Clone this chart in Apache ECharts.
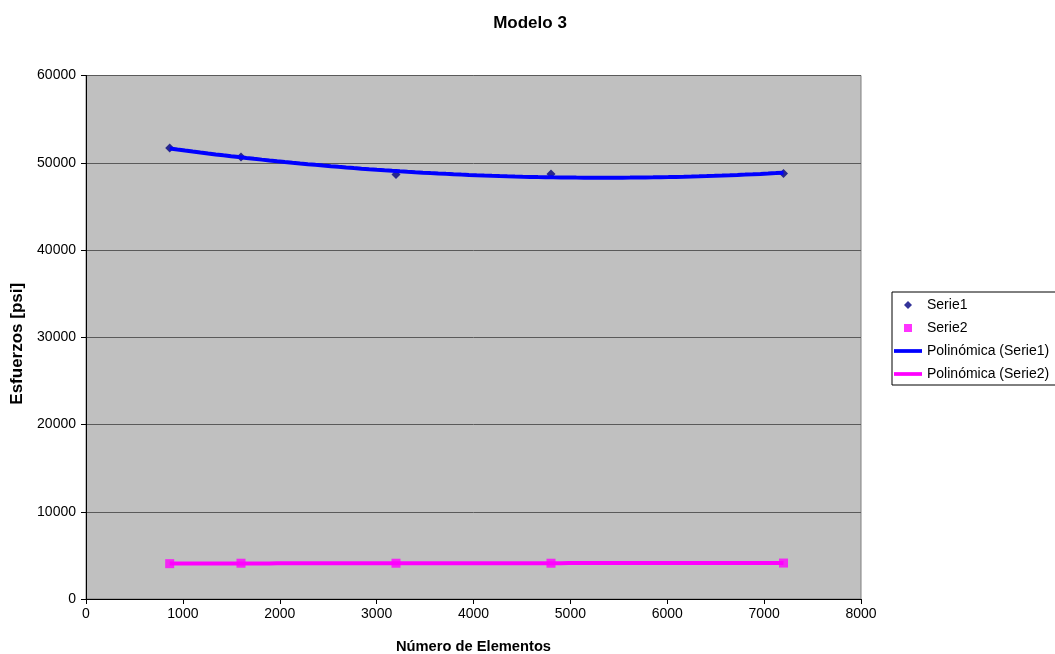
<!DOCTYPE html>
<html>
<head>
<meta charset="utf-8">
<script src="https://cdn.jsdelivr.net/npm/echarts@6/dist/echarts.min.js"></script>
<style>
  html, body { margin: 0; padding: 0; background: #ffffff; }
  #chart { width: 1055px; height: 654px; }
</style>
</head>
<body>
<div id="chart"></div>
<script>
// Número de elementos de la malla
const elementos = [864, 1600, 3200, 4800, 7200];
// Esfuerzos [psi]
const serie1 = [51700, 50660, 48650, 48710, 48770];
const serie2 = [4050, 4100, 4100, 4100, 4120];

const xTicks = { min: 0, max: 8000, interval: 1000 };
const yTicks = { min: 0, max: 60000, interval: 10000 };

// Least-squares quadratic fit (polynomial trendline, order 2)
function polyFit2(xs, ys) {
  const n = xs.length;
  let s = [0, 0, 0, 0, 0], t = [0, 0, 0];
  for (let i = 0; i < n; i++) {
    let p = 1;
    for (let k = 0; k <= 4; k++) { s[k] += p; if (k <= 2) t[k] += p * ys[i]; p *= xs[i]; }
  }
  const A = [[s[0], s[1], s[2]], [s[1], s[2], s[3]], [s[2], s[3], s[4]]];
  const b = t.slice();
  for (let c = 0; c < 3; c++) {
    for (let r = c + 1; r < 3; r++) {
      const f = A[r][c] / A[c][c];
      for (let k = c; k < 3; k++) A[r][k] -= f * A[c][k];
      b[r] -= f * b[c];
    }
  }
  const coef = [0, 0, 0];
  for (let r = 2; r >= 0; r--) {
    let v = b[r];
    for (let k = r + 1; k < 3; k++) v -= A[r][k] * coef[k];
    coef[r] = v / A[r][r];
  }
  return coef;
}

// Trendline sampled across the span of the measured x values
function trend(xs, ys, steps) {
  const c = polyFit2(xs, ys);
  const x0 = Math.min(...xs), x1 = Math.max(...xs);
  const out = [];
  for (let i = 0; i <= steps; i++) {
    const x = x0 + (x1 - x0) * i / steps;
    out.push([x, c[0] + c[1] * x + c[2] * x * x]);
  }
  return out;
}

const pts1 = elementos.map((x, i) => [x, serie1[i]]);
const pts2 = elementos.map((x, i) => [x, serie2[i]]);

const font = 'Liberation Sans, Arial, sans-serif';
const plain = v => String(v);
const chart = echarts.init(document.getElementById('chart'), null, { renderer: 'canvas' });

chart.setOption({
  animation: false,
  textStyle: { fontFamily: font },
  title: {
    text: 'Modelo 3',
    left: 525, top: 10, textAlign: 'center',
    textStyle: { fontFamily: font, fontSize: 17, fontWeight: 'bold', color: '#000' }
  },
  grid: {
    left: 86, top: 75.5, right: 194, bottom: 55,
    outerBoundsMode: 'none', containLabel: false,
    show: true, backgroundColor: '#C0C0C0', borderColor: '#808080', borderWidth: 1
  },
  legend: {
    orient: 'vertical',
    left: 892, top: 292,
    padding: [5, 60, 3, 2],
    itemWidth: 28, itemHeight: 8, itemGap: 7,
    backgroundColor: '#ffffff', borderColor: '#000', borderWidth: 1,
    textStyle: { fontFamily: font, fontSize: 14, color: '#000', lineHeight: 16 },
    data: [
      { name: 'Serie1', icon: 'path://M5,0L10,5L5,10L0,5Z' },
      { name: 'Serie2', icon: 'path://M0,0H10V10H0Z' },
      { name: 'Polinómica (Serie1)', icon: 'path://M0,0H30V4H0Z' },
      { name: 'Polinómica (Serie2)', icon: 'path://M0,0H30V4H0Z' }
    ]
  },
  xAxis: {
    type: 'value', min: xTicks.min, max: xTicks.max, interval: xTicks.interval,
    name: 'Número de Elementos', nameLocation: 'middle', nameGap: 40,
    nameTextStyle: { fontFamily: font, fontSize: 14.7, fontWeight: 'bold', color: '#000' },
    axisLine: { show: true, onZero: false, lineStyle: { color: '#000', width: 1 } },
    axisTick: { show: true, inside: false, length: 5, lineStyle: { color: '#000' } },
    axisLabel: { fontFamily: font, fontSize: 14, color: '#000', margin: 8, formatter: plain },
    splitLine: { show: false }
  },
  yAxis: {
    type: 'value', min: yTicks.min, max: yTicks.max, interval: yTicks.interval,
    name: 'Esfuerzos [psi]', nameLocation: 'middle', nameGap: 54, nameRotate: 90,
    nameTextStyle: { fontFamily: font, fontSize: 17, fontWeight: 'bold', color: '#000', padding: [0, 13, 0, 0] },
    axisLine: { show: true, onZero: false, lineStyle: { color: '#000', width: 1 } },
    axisTick: { show: true, inside: false, length: 5, lineStyle: { color: '#000' } },
    axisLabel: { fontFamily: font, fontSize: 14, color: '#000', margin: 10, formatter: plain },
    splitLine: { show: true, lineStyle: { color: '#5a5a5a', width: 1 } }
  },
  series: [
    {
      name: 'Serie1', type: 'scatter', data: pts1,
      symbol: 'diamond', symbolSize: 9, z: 3,
      itemStyle: { color: '#000080' }
    },
    {
      name: 'Serie2', type: 'scatter', data: pts2,
      symbol: 'rect', symbolSize: 9, z: 3,
      itemStyle: { color: '#FF00FF' }
    },
    {
      name: 'Polinómica (Serie1)', type: 'line', data: trend(elementos, serie1, 80),
      showSymbol: false, symbol: 'none', z: 4,
      lineStyle: { color: '#0000FF', width: 4 }, itemStyle: { color: '#0000FF' }
    },
    {
      name: 'Polinómica (Serie2)', type: 'line', data: trend(elementos, serie2, 80),
      showSymbol: false, symbol: 'none', z: 4,
      lineStyle: { color: '#FF00FF', width: 4 }, itemStyle: { color: '#FF00FF' }
    }
  ]
});
</script>
</body>
</html>
